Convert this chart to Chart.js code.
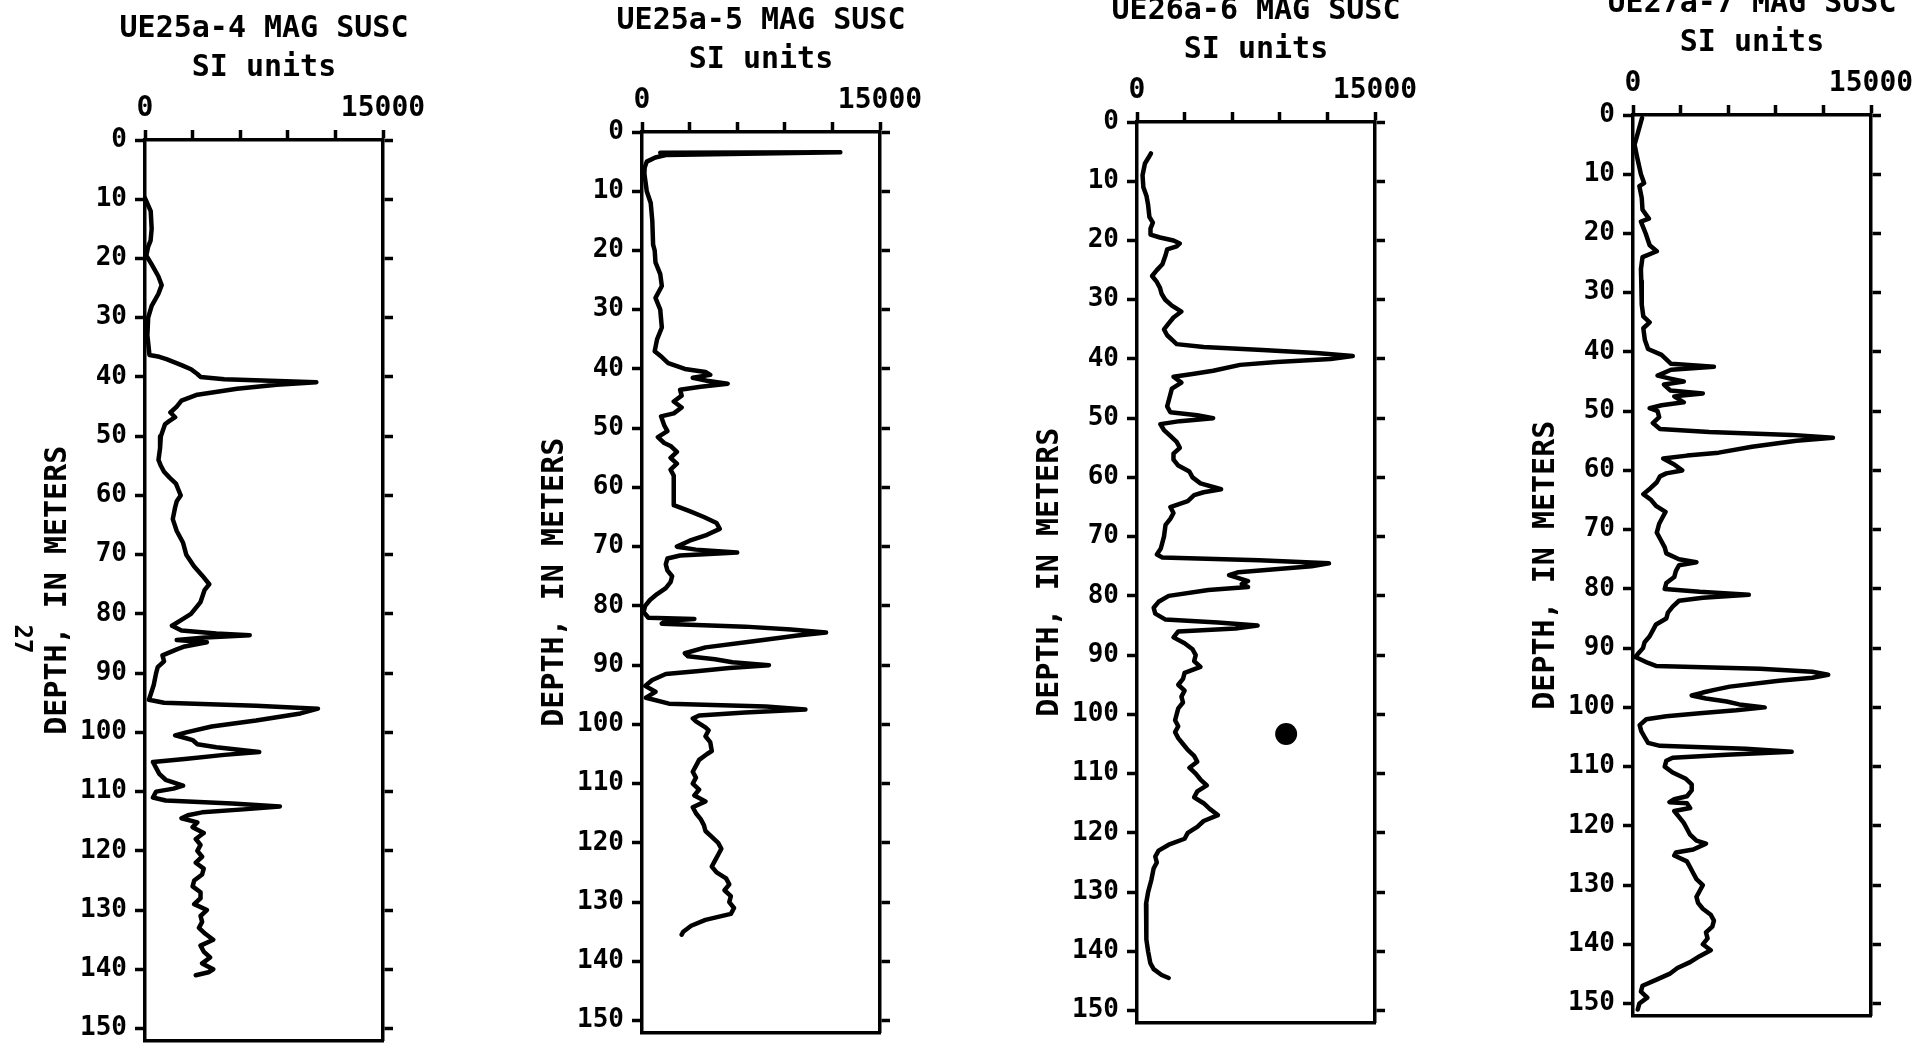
<!DOCTYPE html>
<html>
<head>
<meta charset="utf-8">
<title>MAG SUSC logs</title>
<script src="https://cdn.jsdelivr.net/npm/chart.js@4.4.1/dist/chart.umd.min.js"></script>
<style>
  html, body { margin: 0; padding: 0; background: #fff; overflow: hidden; }
  body { width: 1916px; height: 1064px; position: relative; }
  canvas { position: absolute; }
</style>
</head>
<body>
<canvas id="log1" width="528" height="1064"></canvas>
<canvas id="log2" width="528" height="1064"></canvas>
<canvas id="log3" width="528" height="1064"></canvas>
<canvas id="log4" width="528" height="1064"></canvas>
<script>
// axis ticks shared by all four logs
const depthTicks = [0, 10, 20, 30, 40, 50, 60, 70, 80, 90, 100, 110, 120, 130, 140, 150];
const suscTicks = [0, 3000, 6000, 9000, 12000, 15000];
const suscTickLabels = ['0', '', '', '', '', '15000'];

// UE25a-4
const ue25a4Depth = [9.8, 12, 15, 17, 18, 19.5, 21, 23, 24.5, 26, 28, 30, 33, 35.5, 36.3, 36.6, 37, 38, 38.7, 39.5,
  40, 40.4, 40.9, 41.3, 42, 43, 44, 45, 46, 46.8, 47.5, 48, 50, 52, 54, 55, 56, 57, 58, 59,
  60, 61, 62, 64, 66, 68, 70, 72, 73.5, 75, 76, 78, 80, 81, 82, 82.8, 83.3, 83.6, 84, 84.4,
  84.8, 85.5, 86, 87, 88, 89, 90, 92, 94.5, 95, 95.5, 96, 96.8, 98, 99, 100, 100.5, 101, 101.3, 102,
  102.5, 103.3, 103.8, 104.5, 105, 106, 107, 108, 109, 109.5, 110, 111, 111.5, 112, 112.5, 113, 113.5, 114, 114.5, 115.2,
  116, 117, 118, 119, 120, 121, 122, 123, 124, 125, 126, 127, 128, 129, 130, 131, 132, 133, 134, 135,
  136, 137, 138, 139, 140, 140.5, 141];
const ue25a4Susc = [0, 360, 420, 350, 200, 80, 420, 840, 1050, 840, 420, 200, 150, 250, 280, 900, 1350, 2300, 2900, 3300,
  3500, 5000, 10800, 8300, 5800, 3300, 2300, 2000, 1600, 1900, 1500, 1260, 1000, 950, 850, 1000, 1200, 1550, 1950, 2100,
  2250, 2000, 1900, 1750, 2000, 2400, 2600, 3100, 3600, 4050, 3750, 3500, 2900, 2300, 1700, 2300, 4500, 6600, 3800, 2000,
  3900, 2500, 2000, 1100, 1200, 800, 700, 550, 250, 1200, 7000, 10900, 9800, 7000, 4200, 2600, 1900, 2600, 3000, 3300,
  4500, 7200, 5000, 2500, 500, 700, 900, 1300, 2400, 1800, 700, 500, 1300, 5500, 8500, 6200, 3600, 2700, 2300, 3300,
  3000, 3700, 3200, 3500, 3300, 3600, 3200, 3700, 3600, 3100, 3000, 3500, 3500, 3100, 3900, 3500, 3600, 3400, 3800, 4300,
  3500, 3700, 4100, 3600, 4300, 4000, 3200];

// UE25a-5
const ue25a5Depth = [3.5, 3.4, 3.9, 4.3, 5, 6, 7, 10, 12, 15, 19, 20, 22, 24, 26, 28, 30, 33, 35, 37,
  38, 39, 40, 40.5, 41, 41.5, 42, 42.5, 43, 43.5, 44.5, 45.5, 46.5, 47.5, 48, 49.5, 50.5, 51.5, 52.5, 53,
  54, 55, 56, 57, 58, 60, 62, 63, 64, 65, 66, 67, 68, 69, 70, 70.5, 71, 71.5, 72, 73,
  74, 75, 76, 77, 78, 79, 80, 81, 82, 82.2, 82.5, 83, 83.5, 84, 84.5, 85, 86, 87, 88, 88.5,
  89, 89.5, 90, 90.5, 91, 91.5, 92.5, 93.5, 94.5, 95.5, 96.5, 97, 97.5, 98, 98.5, 99, 99.5, 100.5, 101, 102,
  103, 104.5, 105, 106, 107, 108, 109, 110, 111, 112, 113, 114, 115, 116, 117, 118, 119, 120, 121, 122,
  123, 124, 125, 126, 127, 128, 129, 130, 131, 132, 132.5, 133, 134, 135, 135.5];
const ue25a5Susc = [1150, 12500, 1500, 840, 300, 170, 150, 300, 550, 650, 700, 800, 850, 1150, 1250, 850, 1150, 1250, 950, 800,
  1250, 1650, 2700, 4000, 4300, 3200, 4100, 5400, 3700, 2400, 2500, 2000, 2500, 2000, 1200, 1400, 1600, 1000, 1400, 1800,
  2200, 1800, 2200, 1800, 2000, 2000, 2000, 2000, 3000, 3900, 4700, 4900, 4100, 3000, 2200, 3400, 6000, 2400, 1600, 1500,
  1600, 1900, 1800, 1500, 950, 500, 200, 100, 400, 3300, 1500, 1250, 6500, 9400, 11600, 9800, 6900, 4000, 2700, 2900,
  4600, 5700, 8000, 5500, 3600, 1500, 650, 200, 850, 250, 1700, 7800, 10300, 6500, 3600, 3200, 3400, 4000, 4200, 4000,
  4300, 4400, 4100, 3600, 3400, 3200, 3400, 3200, 3600, 3300, 4000, 3200, 3400, 3700, 3900, 4000, 4400, 4800, 5000, 4800,
  4600, 4400, 4700, 5300, 5500, 5200, 5600, 5500, 5800, 5600, 4800, 4000, 3100, 2600, 2500];

// UE26a-6
const ue26a6Depth = [5.3, 6, 7, 9, 11, 12.5, 14, 16, 17, 18, 19, 19.5, 20, 20.5, 21, 21.5, 22.5, 24, 25, 26,
  27, 28, 29, 30, 31, 32, 33, 34, 35, 36, 37, 37.5, 38, 38.5, 39, 39.5, 40, 40.5, 41, 42,
  42.5, 43, 44, 45, 46, 48, 49, 49.5, 50, 50.5, 51, 52, 53, 54, 55, 56, 57, 58, 59, 60,
  61, 62, 62.5, 63, 64, 65, 66, 67, 68, 70, 72, 73, 73.5, 74, 74.5, 75, 75.5, 76, 76.5, 77,
  77.5, 78, 78.5, 79, 80, 81, 82, 83, 84, 84.5, 85, 85.5, 86, 87, 88, 89, 90, 91, 92, 93,
  94, 95, 96, 97, 98, 99, 100, 101, 102, 103, 104, 105, 106, 107, 108, 109, 110, 111, 112, 113,
  114, 115, 116, 117, 118, 119, 120, 121, 122, 123, 124, 125, 126, 128, 130, 132, 134, 136, 138, 140,
  142, 143, 144, 144.5];
const ue26a6Susc = [880, 730, 500, 350, 400, 600, 700, 780, 1000, 850, 850, 1450, 2300, 2700, 2500, 1900, 1800, 1600, 1250, 950,
  1250, 1450, 1550, 1780, 2200, 2800, 2300, 2000, 1700, 1900, 2300, 2500, 4200, 7900, 11300, 13600, 12200, 8800, 6500, 4800,
  3600, 2300, 2800, 2200, 2100, 1900, 2100, 3800, 4800, 2700, 1470, 1700, 2100, 2500, 2700, 2300, 2300, 2600, 3300, 3500,
  4000, 5300, 4200, 3600, 3200, 2100, 2300, 2100, 1800, 1700, 1500, 1250, 1600, 7700, 12100, 11000, 8700, 6400, 5800, 6400,
  7000, 6600, 7000, 4500, 2000, 1360, 1050, 1150, 1800, 5100, 7600, 6200, 2600, 2300, 3000, 3500, 3700, 3600, 4000, 3000,
  2900, 2600, 3000, 2800, 2900, 2600, 2500, 2400, 2600, 2400, 2600, 2900, 3200, 3600, 3800, 3300, 3700, 4000, 4400, 3800,
  3600, 4200, 4600, 5100, 4200, 3800, 3200, 3000, 2000, 1360, 1150, 1250, 1050, 900, 700, 570, 570, 570, 630, 700,
  840, 1050, 1550, 2000];
// ink spot on the UE26a-6 sheet
const ue26a6SpotDepth = [103.3];
const ue26a6SpotSusc = [9400];

// UE27a-7
const ue27a7Depth = [0.5, 5, 7, 10, 11.5, 12, 14, 16, 17.5, 18, 20, 22, 23, 24, 26, 28, 30, 32, 34, 35,
  36, 38, 39.5, 40.5, 41.5, 42, 42.5, 43, 44, 44.5, 45, 45.5, 46.5, 47, 47.5, 48.5, 49, 49.5, 50, 51,
  52, 53, 53.5, 54, 54.5, 55, 56, 57, 57.5, 58, 59, 60, 60.5, 61, 62, 63, 64, 65, 66, 67,
  68, 69, 70.5, 71.5, 73, 74, 75, 75.5, 76, 77, 78, 79, 80, 80.5, 81, 81.5, 82, 83, 84, 85,
  86, 87, 88, 89, 90, 91, 91.5, 92.5, 93, 93.5, 94, 94.5, 95, 95.5, 96.5, 97, 97.5, 98, 98.5, 99,
  99.5, 100, 100.5, 101, 101.5, 102, 103, 104, 105, 106, 106.5, 107, 107.5, 108, 108.5, 109, 110, 111, 112, 113,
  114, 115, 115.5, 116, 116.2, 117, 117.5, 118.5, 119.5, 120.5, 121.5, 122.5, 123, 124, 124.5, 125, 126, 127, 128, 129,
  130, 131, 132, 133, 134, 135, 136, 137, 138, 139, 140, 141, 142, 143, 144, 145, 146, 147, 148, 149,
  150, 151];
const ue27a7Susc = [570, 100, 250, 500, 700, 400, 550, 600, 1000, 500, 800, 1050, 1500, 600, 500, 520, 550, 550, 650, 1050,
  650, 750, 950, 1800, 2200, 2400, 5100, 2400, 1550, 2350, 3200, 1950, 2350, 4400, 2600, 3200, 1800, 1050, 1550, 1650,
  1250, 1700, 4800, 10000, 12600, 10300, 7500, 5400, 3400, 1900, 2600, 3100, 2100, 1700, 1500, 1100, 650, 1150, 1450, 2050,
  1850, 1650, 1500, 1700, 2000, 2100, 2900, 4000, 2900, 2700, 2600, 2100, 2000, 4200, 7300, 4400, 2900, 2500, 2200, 2100,
  1450, 1250, 1050, 730, 630, 300, 150, 950, 1450, 8000, 11300, 12300, 11300, 9200, 6100, 5200, 4400, 3700, 4600, 5900,
  6700, 8300, 6500, 4200, 2100, 840, 420, 520, 730, 950, 1700, 7100, 10000, 5900, 2500, 2100, 2000, 2500, 3300, 3700,
  3700, 3400, 2600, 2300, 3400, 3600, 2600, 2900, 3200, 3400, 3600, 4000, 4600, 3800, 2700, 2600, 3400, 3600, 3800, 4000,
  4400, 4200, 4000, 4100, 4400, 4900, 5100, 5000, 4600, 4700, 4400, 4900, 4200, 3600, 2800, 2300, 1450, 600, 500, 900,
  400, 300];

const plotFont = "'DejaVu Sans Mono', monospace";
Chart.defaults.font.family = plotFont;
Chart.defaults.color = '#000';

function toPoints(depth, susc) {
    return depth.map((d, i) => ({ x: susc[i], y: d }));
}

const axisGrid = { drawOnChartArea: false, drawTicks: true, tickLength: 10, tickWidth: 3.5, color: '#000' };
const axisBorder = { display: true, width: 3.5, color: '#000' };

function makeLog(canvasId, title, datasets, showPageNo) {
    const ctx = document.getElementById(canvasId).getContext('2d');
    return new Chart(ctx, {
        type: 'scatter',
        data: { datasets: datasets },
        options: {
            responsive: false,
            animation: false,
            events: [],
            layout: { autoPadding: false, padding: { left: 0, right: 0, top: 0, bottom: 0 } },
            plugins: {
                legend: { display: false },
                tooltip: { enabled: false },
                title: {
                    display: true,
                    text: [title, 'SI units'],
                    color: '#000',
                    font: { size: 30, weight: 'bold', lineHeight: 1.3 },
                    padding: { top: 10, bottom: 0 }
                }
            },
            scales: {
                x: {
                    type: 'linear', position: 'top', min: 0, max: 15000,
                    afterBuildTicks: s => { s.ticks = suscTicks.map(v => ({ value: v })); },
                    afterFit: s => { s.height = 52; },
                    grid: axisGrid, border: axisBorder,
                    ticks: { padding: 4, maxRotation: 0, autoSkip: false,
                        font: { size: 28, weight: 'bold' },
                        callback: (v, i) => suscTickLabels[i] }
                },
                xb: {
                    type: 'linear', position: 'bottom', min: 0, max: 15000,
                    afterFit: s => { s.height = 4; },
                    grid: { display: false }, border: axisBorder,
                    ticks: { display: false }
                },
                y: {
                    type: 'linear', position: 'left', reverse: true, min: 0, max: 152,
                    afterBuildTicks: s => { s.ticks = depthTicks.map(v => ({ value: v })); },
                    afterFit: s => { s.width = 145; },
                    grid: axisGrid, border: axisBorder,
                    ticks: { padding: 8, autoSkip: false, font: { size: 26, weight: 'bold' } },
                    title: { display: true, text: 'DEPTH, IN METERS', color: '#000',
                        font: { size: 30, weight: 'bold', lineHeight: 1.2 },
                        padding: { top: 40, bottom: 0 } }
                },
                yr: {
                    type: 'linear', position: 'right', reverse: true, min: 0, max: 152,
                    afterBuildTicks: s => { s.ticks = depthTicks.map(v => ({ value: v })); },
                    afterFit: s => { s.width = 145; },
                    grid: axisGrid, border: axisBorder,
                    ticks: { autoSkip: false, callback: () => '' }
                }
            }
        },
        plugins: showPageNo ? [{
            id: 'pageNo',
            afterDraw(chart) {
                const c = chart.ctx;
                c.save();
                c.translate(21, 639);
                c.rotate(Math.PI / 2);
                c.font = 'bold 24px ' + plotFont;
                c.fillStyle = '#000';
                c.textAlign = 'center';
                c.textBaseline = 'middle';
                c.fillText('27', 0, 0);
                c.restore();
            }
        }] : []
    });
}

function traceSet(depth, susc) {
    return {
        data: toPoints(depth, susc),
        showLine: true,
        borderColor: '#000',
        borderWidth: 4.5,
        borderJoinStyle: 'round',
        borderCapStyle: 'round',
        pointRadius: 0,
        tension: 0
    };
}

// canvas placement of each log on the sheet
const logs = [
    { id: 'log1', title: 'UE25a-4 MAG SUSC', left: 0, top: 0,
      sets: [traceSet(ue25a4Depth, ue25a4Susc)], pageNo: true },
    { id: 'log2', title: 'UE25a-5 MAG SUSC', left: 497, top: -8,
      sets: [traceSet(ue25a5Depth, ue25a5Susc)] },
    { id: 'log3', title: 'UE26a-6 MAG SUSC', left: 992, top: -18,
      sets: [traceSet(ue26a6Depth, ue26a6Susc), {
          data: toPoints(ue26a6SpotDepth, ue26a6SpotSusc),
          pointRadius: 11, pointBackgroundColor: '#000', pointBorderWidth: 0 }] },
    { id: 'log4', title: 'UE27a-7 MAG SUSC', left: 1488, top: -25,
      sets: [traceSet(ue27a7Depth, ue27a7Susc)] }
];

logs.forEach(log => {
    const cv = document.getElementById(log.id);
    cv.style.left = log.left + 'px';
    cv.style.top = log.top + 'px';
    makeLog(log.id, log.title, log.sets, log.pageNo);
});
</script>
</body>
</html>
